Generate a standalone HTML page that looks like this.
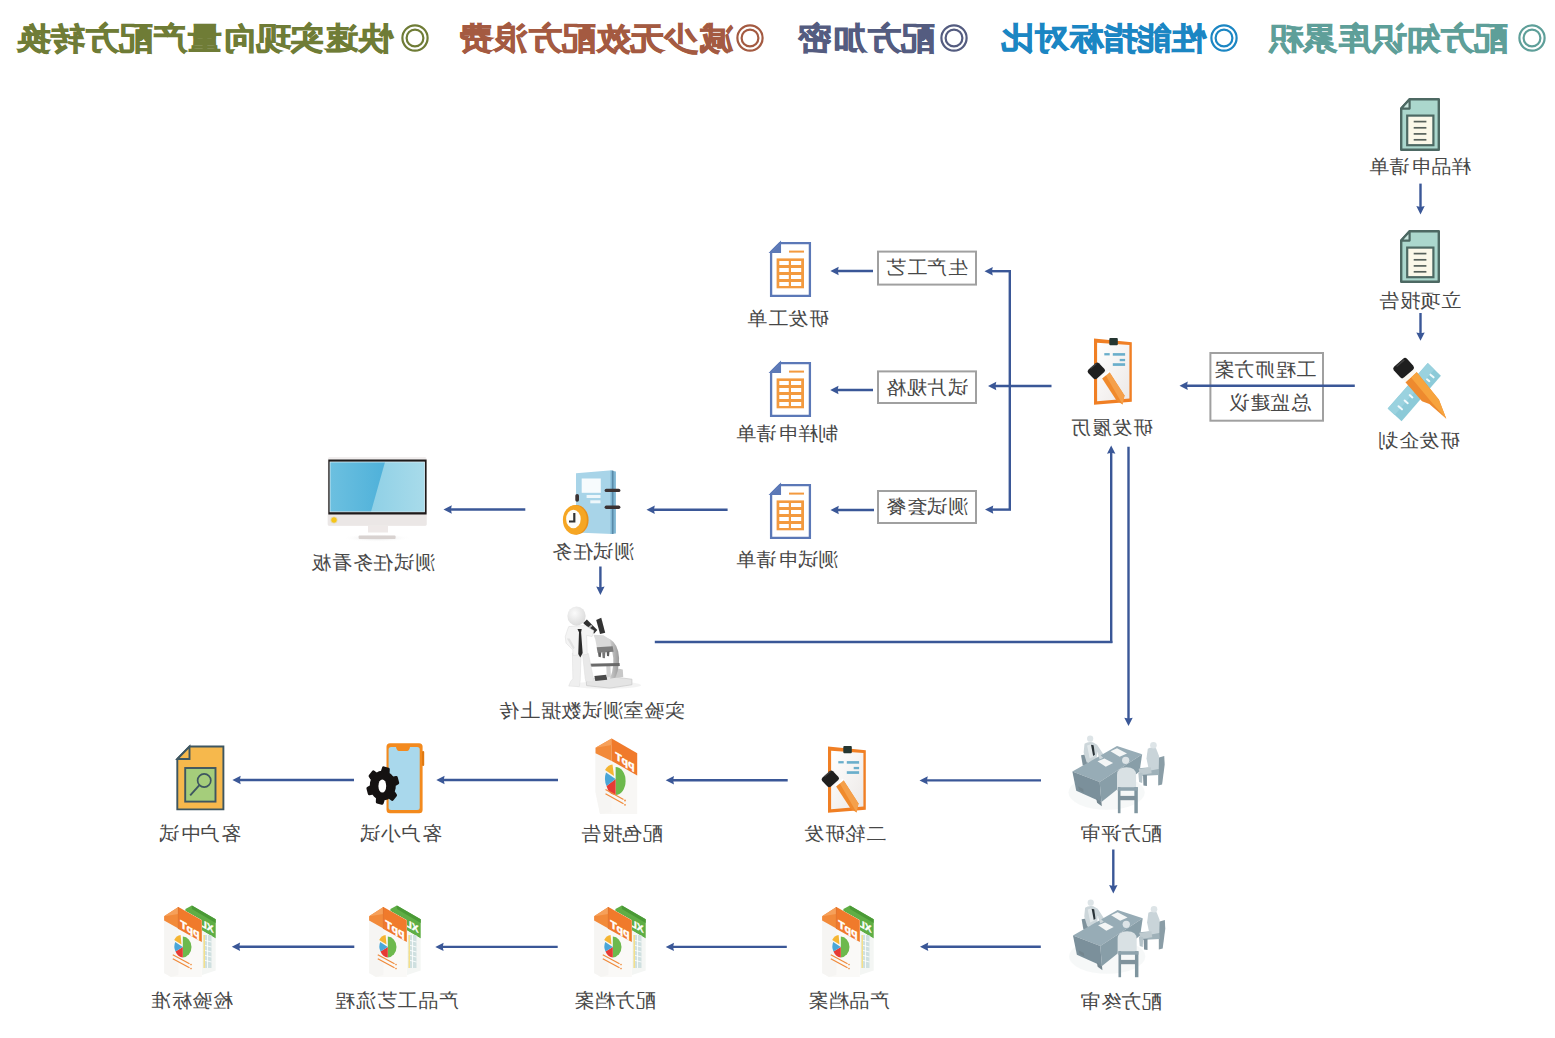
<!DOCTYPE html>
<html><head><meta charset="utf-8"><style>
html,body{margin:0;padding:0;background:#fff;width:1555px;height:1038px;overflow:hidden;position:relative;font-family:"Liberation Sans",sans-serif}
.lb{position:absolute;width:300px;text-align:center;font-size:20px;line-height:20px;color:#474747;white-space:nowrap;letter-spacing:0.65px;padding-left:0.65px;box-sizing:border-box;transform:scale(-1,0.95)}
.hd{position:absolute;top:21px;height:34px;font-size:34px;line-height:34px;font-weight:bold;white-space:nowrap;letter-spacing:0.2px;transform:scale(-1,0.92);text-align:left;-webkit-text-stroke:0.9px currentColor}
.circ{position:absolute}
svg.main{position:absolute;left:0;top:0}
svg.main .ln line{stroke:#3a5797;stroke-width:2.4}
svg.main .ln .ah{fill:#3a5797}
svg.main .bx rect{fill:none;stroke:#a0a0a0;stroke-width:2}
</style></head><body>
<svg class="main" width="1555" height="1038" viewBox="0 0 1555 1038">
<g class="bx"><rect x="1210.4" y="353" width="112.59999999999991" height="67.69999999999999" /><rect x="878" y="251.6" width="98" height="33.00000000000003" /><rect x="878" y="371.4" width="98" height="31.600000000000023" /><rect x="878" y="491" width="98" height="32" /></g>
<defs>
  <g id="tealdoc">
    <path d="M9.6,1.2 H38.8 V51.8 H1.2 V10.6 Z" fill="#abd7cd" stroke="#4d6963" stroke-width="2.4" stroke-linejoin="round"/>
    <path d="M9.6,1.2 V10.6 H1.2 Z" fill="#c9e6df" stroke="#4d6963" stroke-width="2.2" stroke-linejoin="round"/>
    <rect x="7.2" y="17.6" width="26.2" height="29.6" fill="#fbf8e9" stroke="#4d6963" stroke-width="2.2"/>
    <g stroke="#56605a" stroke-width="1.7">
      <line x1="13.7" y1="23.6" x2="26.4" y2="23.6"/>
      <line x1="13.7" y1="29.8" x2="26.4" y2="29.8"/>
      <line x1="13.7" y1="35.9" x2="26.4" y2="35.9"/>
      <line x1="13.7" y1="41.8" x2="26.4" y2="41.8"/>
    </g>
  </g>
  <g id="bluedoc">
    <path d="M10,1.1 H39.9 V53.9 H1.1 V10 Z" fill="#fff" stroke="#5b78b7" stroke-width="2.3" stroke-linejoin="miter"/>
    <path d="M10,1.1 V10 H1.1 Z" fill="#fff" stroke="#5b78b7" stroke-width="2.1"/>
    <path d="M9,3 L3,9 L9,9 Z" fill="#5b78b7"/>
    <rect x="19" y="8.6" width="15" height="2" fill="#f39a3f"/>
    <rect x="6.6" y="16.4" width="27.4" height="29.9" fill="#f39a3f"/>
    <g fill="#fff">
      <rect x="9.3" y="19" width="9.5" height="4"/><rect x="21" y="19" width="10.2" height="4"/>
      <rect x="9.3" y="26" width="9.5" height="4"/><rect x="21" y="26" width="10.2" height="4"/>
      <rect x="9.3" y="33" width="9.5" height="4"/><rect x="21" y="33" width="10.2" height="4"/>
      <rect x="9.3" y="40" width="9.5" height="4"/><rect x="21" y="40" width="10.2" height="4"/>
    </g>
  </g>
  <linearGradient id="paperg" x1="0" y1="0" x2="1" y2="1">
    <stop offset="0" stop-color="#ffffff"/><stop offset="1" stop-color="#ece8e6"/>
  </linearGradient>
  <g id="clip">
    <path d="M0,0.5 L37.8,4.3 L37.8,63.7 L0,66.8 Z" fill="#f07f24"/>
    <path d="M3.1,4.7 L35.4,7 L35.4,60.6 L3.1,63.3 Z" fill="url(#paperg)"/>
    <rect x="15.3" y="0" width="8.5" height="7.3" rx="1" fill="#253631"/>
    <g fill="#6aaecb">
      <rect x="10.3" y="15.1" width="5.4" height="2.3"/><rect x="18.8" y="15.1" width="12.3" height="2.6"/>
      <rect x="25.7" y="20.9" width="5.4" height="2.3"/><rect x="18.8" y="25.2" width="12.3" height="2.7"/>
    </g>
    <path d="M7.5,39.5 L15.2,33.7 L30.5,57.5 L28.6,66.4 L22.5,62.5 Z" fill="#f08a2c"/>
    <path d="M11.3,36.6 L15.2,33.7 L30.5,57.5 L28.6,66.4 Z" fill="#f5a04a"/>
    <path d="M7.2,39.9 L15.5,33.3" stroke="#fff" stroke-width="2"/>
    <path d="M-5.5,31.5 L1.5,25.3 Q3.3,23.8 5,25.3 L10.5,31 Q11.8,32.6 10.3,34 L3,40.5 Q1.2,42 -0.5,40.5 L-5.8,35 Q-7.2,33.2 -5.5,31.5 Z" fill="#1f1f1f"/>
    <path d="M-3.5,30.5 L2.5,25.5" stroke="#5a5a5a" stroke-width="1.2" opacity="0.6"/>
  </g>
  <g id="meet">
  <g transform="scale(0.086685)">
    <ellipse cx="480" cy="720" rx="440" ry="200" fill="#eef1f2" opacity="0.5"/>
    <!-- back-left chair -->
    <path d="M185,290 L250,280 L265,400 L205,410 Z" fill="#7f929c"/>
    <!-- back-left person -->
    <path d="M225,160 Q260,130 320,140 L370,170 L450,290 L430,320 L370,250 L365,345 L250,375 L215,260 Z" fill="#ccd6da"/>
    <path d="M255,180 L300,165 L330,180 L340,300 L285,330 Z" fill="#e2e8ea"/>
    <path d="M300,170 L330,175 L345,285 L325,300 Z" fill="#2a3338"/>
    <circle cx="290" cy="100" r="36" fill="#dde4e7"/>
    <!-- desk -->
    <path d="M85,480 L600,185 L890,280 L400,600 Z" fill="#97acb6"/>
    <path d="M85,480 L400,600 L420,830 L130,700 Z" fill="#7b909b"/>
    <path d="M400,600 L890,280 L860,480 L420,830 Z" fill="#889ea8"/>
    <path d="M150,650 L210,680 L215,720 L160,690 Z" fill="#74868f"/>
    <path d="M360,790 L420,830 L425,880 L370,840 Z" fill="#74868f"/>
    <!-- papers -->
    <path d="M525,245 L600,210 L715,270 L630,310 Z" fill="#f4f6f6"/>
    <path d="M375,360 L455,330 L555,380 L470,425 Z" fill="#f4f6f6"/>
    <path d="M370,250 L440,320 L400,340 Z" fill="#ccd6da"/>
    <!-- right chair & person -->
    <path d="M1075,320 L1145,300 L1150,400 L1120,630 L1075,640 Z" fill="#8a9da6"/>
    <path d="M850,440 L1080,420 L1085,520 L870,530 Z" fill="#9fb1b9"/>
    <path d="M900,520 L945,520 L945,645 L905,640 Z" fill="#7f929c"/>
    <path d="M955,215 Q1000,190 1050,210 L1085,300 L1080,450 L970,470 L940,330 Z" fill="#c9d4d9"/>
    <path d="M850,450 L990,430 L1000,500 L870,520 Z" fill="#bfcbd0"/>
    <path d="M845,490 L895,495 L890,610 L855,600 Z" fill="#b5c3c9"/>
    <circle cx="1020" cy="175" r="38" fill="#dde4e7"/>
    <!-- front person & chair -->
    <path d="M600,520 Q600,430 710,430 Q820,430 820,520 L820,700 L600,700 Z" fill="#d9e1e4"/>
    <circle cx="700" cy="350" r="42" fill="#dde4e7"/>
    <path d="M610,660 L640,660 L640,960 L610,960 Z" fill="#7f959f"/>
    <path d="M800,660 L840,660 L840,960 L800,960 Z" fill="#7f959f"/>
    <path d="M610,660 L840,660 L840,700 L610,700 Z" fill="#8ea3ad"/>
    <path d="M630,760 L820,760 L820,810 L630,810 Z" fill="#7f929c"/>
  </g>
</g>
  <g id="pptxl">
    <!-- XL behind -->
    <path d="M21.4,3.9 L27.9,0.4 L51.7,14.3 L51.7,33.4 L38,25.5 L38,15.3 L21.4,6 Z" fill="#5fae45"/>
    <path d="M27.9,0.4 L51.7,14.3 L51.7,18 L27.9,4 Z" fill="#4a9a36"/>
    <path d="M38,25.5 L51.7,33.4 L51.7,65.5 L38,70 Z" fill="#f4f6f4"/>
    <g fill="#cfe0e0">
      <rect x="39.5" y="30" width="8" height="33" />
    </g>
    <g stroke="#fff" stroke-width="0.8">
      <line x1="39.5" y1="35" x2="47.5" y2="37"/><line x1="39.5" y1="40" x2="47.5" y2="42"/>
      <line x1="39.5" y1="45" x2="47.5" y2="47"/><line x1="39.5" y1="50" x2="47.5" y2="52"/>
      <line x1="39.5" y1="55" x2="47.5" y2="57"/><line x1="43.5" y1="30" x2="43.5" y2="63"/>
    </g>
    <rect x="39.5" y="30" width="1.5" height="33" fill="#f5e08a"/>
    <text x="0" y="0" transform="matrix(-1,-0.55,0,1,49.5,28)" font-family="Liberation Sans" font-weight="bold" font-size="10" fill="#fff" stroke="#fff" stroke-width="0.4">XL</text>
    <!-- PPT doc -->
    <path d="M0.1,11.2 L14.4,2.1 L37.8,15.2 L37.8,72 L7,72 L0.1,68 Z" fill="#faf9f7"/>
    <path d="M0.1,15 L0.1,68 L7,72 L14.4,70 L14.4,23" fill="#f6f5f3"/>
    <path d="M0.1,11.2 L14.4,2.1 L14.4,23.4 L0.1,15.6 Z" fill="#f28a3a"/><path d="M0.1,11.2 L14.4,2.1 L14.4,9 Z" fill="#f6a05a"/>
    <path d="M14.4,2.1 L37.8,15.2 L37.8,37 L14.4,24 Z" fill="#f07a2b"/>
    <path d="M14.4,2.1 L14.4,24" stroke="#e06a20" stroke-width="0.8"/>
    <text x="0" y="0" transform="matrix(-1,-0.56,0,1,35.5,33)" font-family="Liberation Sans" font-weight="bold" font-size="10.5" fill="#fff" stroke="#fff" stroke-width="0.5">ppT</text>
    <!-- pie -->
    <path d="M18.8,42 L18.8,31.6 A8.7,10.4 0 0 1 18.8,52.4 Z" fill="#6db94d"/>
    <path d="M18.8,42 L18.8,52.4 A8.7,10.4 0 0 1 11.5,46.5 Z" fill="#e63a34"/>
    <path d="M18.8,42 L11.5,46.5 A8.7,10.4 0 0 1 11.2,37 Z" fill="#4aa6d8"/>
    <path d="M17.5,39.5 L10.2,35 A8.7,10.4 0 0 1 16.6,30 Z" fill="#f5b532"/>
    <g stroke="#f08a3a" stroke-width="1.2">
      <line x1="8.8" y1="49.8" x2="25.5" y2="58.8"/><line x1="8.8" y1="53.7" x2="25.5" y2="62.8"/>
    </g>
    <g fill="#f08a3a"><circle cx="27" cy="59.6" r="0.8"/><circle cx="27" cy="63.6" r="0.8"/></g>
  </g>
</defs>
<use href="#tealdoc" x="1400" y="98"/>
<use href="#tealdoc" x="1400" y="230"/>
<use href="#bluedoc" x="770" y="242"/>
<use href="#bluedoc" x="770" y="362"/>
<use href="#bluedoc" x="770" y="484"/>
<use href="#clip" x="1094" y="338"/>
<use href="#clip" x="828" y="746"/>
<use href="#meet" x="1065" y="730"/>
<use href="#meet" x="1065.6" y="894"/>
<use href="#pptxl" x="164" y="905"/>
<use href="#pptxl" x="369" y="905"/>
<use href="#pptxl" x="594" y="905"/>
<use href="#pptxl" x="822" y="905"/>
<!-- pencil + ruler (研发企划) -->
<g id="pencil">
  <g transform="translate(1380,350) scale(0.07707)">
    <path d="M100,760 L280,925 L790,335 L620,170 Z" fill="#8ccad8"/>
    <path d="M100,760 L190,842 L705,252 L620,170 Z" fill="#9ad2df"/>
    <g stroke="#f2fafc" stroke-width="26" stroke-linecap="round">
      <line x1="240" y1="730" x2="285" y2="770"/>
      <line x1="320" y1="655" x2="360" y2="690"/>
      <line x1="385" y1="585" x2="420" y2="615"/>
      <line x1="610" y1="380" x2="640" y2="405"/>
      <line x1="655" y1="320" x2="695" y2="355"/>
    </g>
    <path d="M330,420 L475,285 L765,645 L860,892 L640,700 L545,665 Z" fill="#ee8a2e"/>
    <path d="M400,355 L475,285 L765,645 L860,892 L680,690 Z" fill="#f7a43e"/>
    <path d="M290,372 L440,238 L478,282 L330,418 Z" fill="#fbf7f0"/>
    <path d="M185,215 L300,112 Q325,92 350,112 L432,205 Q452,232 428,255 L310,358 Q285,380 262,355 L178,262 Q160,238 185,215 Z" fill="#1f1f1f"/>
    <path d="M215,215 L315,128" stroke="#5a5a5a" stroke-width="18" opacity="0.6"/>
  </g>
</g>
<!-- notebook + clock (测试任务) -->
<g id="notebook">
  <path d="M576,473.3 L612.1,470.3 L612.1,534.1 L576,532.6 Z" fill="#a8d4e8"/>
  <path d="M610.5,470.5 L615.9,471.5 L615.9,533.5 L610.5,534.1 Z" fill="#7fb6d3"/>
  <path d="M612,470.5 L613.5,470.8 L613.5,534 L612,534 Z" fill="#5a8aa8"/>
  <rect x="581.7" y="478.5" width="19.1" height="14.3" fill="#f7fbfd"/>
  <rect x="586.6" y="495" width="13.9" height="3" fill="#eef7fb"/>
  <rect x="590.3" y="500.3" width="10.2" height="3" fill="#eef7fb"/>
  <rect x="604.6" y="488.7" width="15.8" height="3.4" rx="1.7" fill="#3b3233"/>
  <rect x="604.6" y="505.6" width="15.8" height="3.4" rx="1.7" fill="#3b3233"/>
  <rect x="575.3" y="494" width="3.7" height="7.8" rx="1.8" fill="#3b3233"/>
  <ellipse cx="576.3" cy="519.9" rx="12.3" ry="14.8" fill="#e8901a"/>
  <ellipse cx="574.9" cy="519.9" rx="12" ry="14.6" fill="#f6a623"/>
  <ellipse cx="573.4" cy="519" rx="7.3" ry="9.3" fill="#fffdf8"/>
  <path d="M574.3,513 V521.5 H569" stroke="#333" stroke-width="2.2" fill="none"/>
</g>
<!-- monitor (测试任务看板) -->
<defs>
  <linearGradient id="scr" x1="0" y1="0" x2="1" y2="0">
    <stop offset="0" stop-color="#6cc0e0"/><stop offset="1" stop-color="#3aa6d5"/>
  </linearGradient>
  <linearGradient id="scr2" x1="0" y1="0" x2="1" y2="0">
    <stop offset="0" stop-color="#8fd0e6"/><stop offset="1" stop-color="#a8dbea"/>
  </linearGradient>
  <radialGradient id="shad" cx="0.5" cy="0.5" r="0.5">
    <stop offset="0" stop-color="#ccc" stop-opacity="0.7"/><stop offset="1" stop-color="#fff" stop-opacity="0"/>
  </radialGradient>
</defs>
<g id="monitor">
  <ellipse cx="377" cy="538" rx="34" ry="4" fill="url(#shad)"/>
  <rect x="368" y="525.5" width="20" height="7" fill="#eee9e8"/>
  <rect x="358.6" y="535.5" width="37" height="3.5" rx="1" fill="#d8d2d0"/>
  <rect x="327.8" y="457" width="98.8" height="68.7" rx="2" fill="#f1eeee"/>
  <rect x="327.8" y="514" width="98.8" height="11.7" rx="1.5" fill="#ebe7e6"/>
  <rect x="328.3" y="459.5" width="98.3" height="55" fill="#1e1a1a"/>
  <rect x="330" y="462" width="94.5" height="49.8" fill="url(#scr)"/>
  <path d="M385,462 L424.5,462 L424.5,511.8 L371,511.8 Z" fill="url(#scr2)"/>
  <rect x="330" y="462" width="94.5" height="49.8" fill="none" stroke="#d9eef6" stroke-width="0.8"/>
  <circle cx="334" cy="520" r="3.3" fill="#f5c518" stroke="#e0e0e0" stroke-width="0.8"/>
</g>
<!-- lab man + microscope -->
<g id="labman">
  <defs>
    <radialGradient id="headg" cx="0.4" cy="0.35" r="0.7">
      <stop offset="0" stop-color="#fbfbfb"/><stop offset="1" stop-color="#d9d9d9"/>
    </radialGradient>
    <linearGradient id="armg" x1="0" y1="0" x2="1" y2="0">
      <stop offset="0" stop-color="#e8e8e8"/><stop offset="1" stop-color="#9a9a9a"/>
    </linearGradient>
  </defs>
  <g transform="translate(555,600) scale(0.09158)">
    <ellipse cx="560" cy="930" rx="380" ry="40" fill="#eeeeee" opacity="0.7"/>
    <!-- base -->
    <path d="M340,870 L600,835 L840,865 L840,925 L600,962 L345,935 Z" fill="#e4e4e4" stroke="#c9c9c9" stroke-width="8"/>
    <path d="M430,830 L560,815 L570,870 L440,885 Z" fill="#4a4a4a"/>
    <path d="M650,740 L740,760 L745,840 L660,850 Z" fill="#c8c8c8"/>
    <!-- arm -->
    <path d="M560,410 Q660,440 690,560 Q720,700 660,850 L600,860 Q660,700 625,565 Q600,480 545,460 Z" fill="url(#armg)"/>
    <path d="M560,720 L605,720 L610,835 L565,840 Z" fill="#d0d0d0"/>
    <!-- stage -->
    <path d="M350,695 L705,688 L708,722 L355,728 Z" fill="#6a6a6a"/>
    <!-- head body & turret -->
    <path d="M420,380 L530,385 L600,430 L615,520 L460,535 L440,430 Z" fill="#d9d9d9"/>
    <path d="M455,515 L630,505 L640,565 L465,575 Z" fill="#7d7d7d"/>
    <path d="M470,570 L505,570 L500,625 L475,620 Z" fill="#5e5e5e"/>
    <path d="M515,570 L550,568 L545,635 L520,632 Z" fill="#777"/>
    <path d="M565,565 L595,560 L590,615 L568,612 Z" fill="#5e5e5e"/>
    <!-- eyepieces -->
    <path d="M308,252 L348,212 L462,328 L425,368 Z" fill="#2f2f2f"/>
    <path d="M450,218 L505,195 L548,358 L492,372 Z" fill="#333"/>
    <path d="M360,300 L395,270 L410,285 L375,315 Z" fill="#ddd" opacity="0.8"/>
    <!-- legs -->
    <path d="M190,580 L285,585 L275,880 L265,945 L150,940 L170,890 L195,860 Z" fill="#efefef" stroke="#dedede" stroke-width="6"/>
    <path d="M300,585 L365,585 L420,860 L410,895 L340,890 L330,860 Z" fill="#e9e9e9" stroke="#dedede" stroke-width="6"/>
    <!-- torso -->
    <path d="M150,290 L330,278 L425,335 L405,400 L345,385 L352,595 L195,605 L195,545 L120,470 L112,400 L138,320 Z" fill="#f4f4f4" stroke="#dcdcdc" stroke-width="6"/>
    <path d="M130,420 L200,540 L215,520 L160,420 Z" fill="#e2e2e2"/>
    <path d="M245,318 L292,318 L285,352 L302,580 L276,628 L254,590 L262,352 Z" fill="#2b2b2b"/>
    <!-- head -->
    <ellipse cx="235" cy="175" rx="100" ry="105" fill="url(#headg)"/>
  </g>
</g>
<!-- PPT single (配色报告) -->
<g id="pptone">
  <path d="M595.5,753.2 L611.7,738.5 L637.2,753.2 L637.2,814 L600,814 L595.5,791.7 Z" fill="#f8f7f5"/>
  <path d="M595.5,753 L595.5,792 L600,814 L611.7,812 L611.7,761" fill="#f6f5f3"/>
  <path d="M595.5,747.7 L611.7,738.5 L611.7,760.9 L595.5,753.2 Z" fill="#f28a3a"/>
  <path d="M595.5,747.7 L611.7,738.5 L611.7,745 Z" fill="#f6a05a"/>
  <path d="M611.7,738.5 L637.2,753.2 L637.2,775.5 L611.7,760.9 Z" fill="#f07a2b"/>
  <text x="0" y="0" transform="matrix(-1,-0.56,0,1,634.5,770)" font-family="Liberation Sans" font-weight="bold" font-size="10.5" fill="#fff" stroke="#fff" stroke-width="0.5">ppT</text>
  <path d="M615.6,779 L615.6,767 A10,14 0 0 1 615.6,795 Z" fill="#6db94d"/>
  <path d="M615.6,779 L615.6,795 A10,14 0 0 1 606.5,786 Z" fill="#e63a34"/>
  <path d="M615.6,779 L606.5,786 A10,14 0 0 1 606,772.5 Z" fill="#4aa6d8"/>
  <path d="M614,776 L605,770 A10,14 0 0 1 612.5,764.5 Z" fill="#f5b532"/>
  <g stroke="#f08a3a" stroke-width="1.2">
    <line x1="605.5" y1="789.4" x2="623.5" y2="799.5"/><line x1="605.5" y1="793.8" x2="623.5" y2="803.8"/>
  </g>
  <g fill="#f08a3a"><circle cx="625" cy="800.5" r="0.9"/><circle cx="625" cy="804.8" r="0.9"/></g>
</g>
<!-- phone + gear (客户小试) -->
<g id="phone">
  <rect x="386.5" y="743.2" width="36.1" height="70" rx="3.5" fill="#f38a1e"/>
  <rect x="422" y="751" width="2.2" height="15" rx="1" fill="#e07a12"/>
  <rect x="388.6" y="746.9" width="31.1" height="63.1" rx="2.5" fill="#a9d8ec"/>
  <path d="M396,746.9 H410 Q409.5,750.5 407,751 H399 Q396.5,750.5 396,746.9 Z" fill="#f38a1e"/>
  <path d="M379.3,772.9 L382.2,772.2 L383.6,768.0 L388.2,769.2 L388.0,773.7 L390.4,775.7 L390.4,775.7 L392.4,778.3 L396.2,777.6 L397.6,782.8 L394.2,784.9 L394.0,788.4 L394.0,788.4 L393.0,791.7 L395.4,795.2 L392.2,799.3 L389.0,796.8 L386.3,798.3 L386.3,798.3 L383.4,799.0 L382.0,803.2 L377.4,802.0 L377.6,797.5 L375.2,795.5 L375.2,795.5 L373.2,792.9 L369.4,793.6 L368.0,788.4 L371.4,786.3 L371.6,782.8 L371.6,782.8 L372.6,779.5 L370.2,776.0 L373.4,771.9 L376.6,774.4 L379.3,772.9 Z" fill="#151212" stroke="#151212" stroke-width="3.2" stroke-linejoin="round"/>
  <ellipse cx="382.3" cy="786" rx="3.9" ry="6.6" fill="#fff"/>
</g>
<!-- doc search (客户中试) -->
<g id="docsearch">
  <path d="M189.5,746.5 H223.4 V809.4 H177.3 V759 Z" fill="#f6b84c" stroke="#3e5660" stroke-width="1.9" stroke-linejoin="miter"/>
  <path d="M189.5,746.5 V759 H177.3 Z" fill="#f6b84c" stroke="#3e5660" stroke-width="1.9"/>
  <rect x="185.2" y="768" width="30.3" height="33.6" fill="#a5cd7b" stroke="#3e5660" stroke-width="1.9"/>
  <circle cx="204.2" cy="780.5" r="6.6" fill="none" stroke="#3e5660" stroke-width="1.7"/>
  <line x1="199.4" y1="785.2" x2="190.2" y2="795.3" stroke="#3e5660" stroke-width="1.9"/>
</g>

<g class="ln"><line x1="1420.5" y1="183.6" x2="1420.5" y2="208.4" /><path class="ah" d="M1420.5,214.4 L1416.3,206.1 L1420.5,207.0 L1424.7,206.1 Z"/><line x1="1420.5" y1="313" x2="1420.5" y2="334.7" /><path class="ah" d="M1420.5,340.7 L1416.3,332.4 L1420.5,333.3 L1424.7,332.4 Z"/><line x1="1354.8" y1="385.8" x2="1185.5" y2="385.8" /><path class="ah" d="M1179.5,385.8 L1187.8,381.6 L1186.9,385.8 L1187.8,390.0 Z"/><line x1="1051.5" y1="386" x2="994" y2="386" /><path class="ah" d="M988,386 L996.3,381.8 L995.4,386 L996.3,390.2 Z"/><line x1="1009.8" y1="271.2" x2="1009.8" y2="509.6" /><line x1="1011" y1="271.2" x2="990.5" y2="271.2" /><path class="ah" d="M984.5,271.2 L992.8,267.0 L991.9,271.2 L992.8,275.4 Z"/><line x1="1011" y1="509.6" x2="991" y2="509.6" /><path class="ah" d="M985,509.6 L993.3,505.40000000000003 L992.4,509.6 L993.3,513.8000000000001 Z"/><line x1="873" y1="271" x2="836.4" y2="271" /><path class="ah" d="M830.4,271 L838.6999999999999,266.8 L837.8,271 L838.6999999999999,275.2 Z"/><line x1="873" y1="390" x2="836.2" y2="390" /><path class="ah" d="M830.2,390 L838.5,385.8 L837.6,390 L838.5,394.2 Z"/><line x1="874" y1="510" x2="836.5" y2="510" /><path class="ah" d="M830.5,510 L838.8,505.8 L837.9,510 L838.8,514.2 Z"/><line x1="727.6" y1="509.7" x2="652.5" y2="509.7" /><path class="ah" d="M646.5,509.7 L654.8,505.5 L653.9,509.7 L654.8,513.9 Z"/><line x1="525.3" y1="509.5" x2="449.5" y2="509.5" /><path class="ah" d="M443.5,509.5 L451.8,505.3 L450.9,509.5 L451.8,513.7 Z"/><line x1="600.4" y1="566.5" x2="600.4" y2="588.9" /><path class="ah" d="M600.4,594.9 L596.1999999999999,586.6 L600.4,587.5 L604.6,586.6 Z"/><line x1="654.8" y1="642" x2="1112.4" y2="642" /><line x1="1111.2" y1="643" x2="1111.2" y2="451.4" /><path class="ah" d="M1111.2,445.4 L1107.0,453.7 L1111.2,452.79999999999995 L1115.4,453.7 Z"/><line x1="1128.5" y1="446.7" x2="1128.5" y2="720" /><path class="ah" d="M1128.5,726 L1124.3,717.7 L1128.5,718.6 L1132.7,717.7 Z"/><line x1="1041" y1="780.4" x2="925.5" y2="780.4" /><path class="ah" d="M919.5,780.4 L927.8,776.1999999999999 L926.9,780.4 L927.8,784.6 Z"/><line x1="787.7" y1="780.2" x2="671.7" y2="780.2" /><path class="ah" d="M665.7,780.2 L674.0,776.0 L673.1,780.2 L674.0,784.4000000000001 Z"/><line x1="558" y1="780" x2="442.3" y2="780" /><path class="ah" d="M436.3,780 L444.6,775.8 L443.7,780 L444.6,784.2 Z"/><line x1="354" y1="780" x2="238.4" y2="780" /><path class="ah" d="M232.4,780 L240.70000000000002,775.8 L239.8,780 L240.70000000000002,784.2 Z"/><line x1="1113.3" y1="849.5" x2="1113.3" y2="887.4" /><path class="ah" d="M1113.3,893.4 L1109.1,885.1 L1113.3,886.0 L1117.5,885.1 Z"/><line x1="1040.8" y1="946.8" x2="926" y2="946.8" /><path class="ah" d="M920,946.8 L928.3,942.5999999999999 L927.4,946.8 L928.3,951.0 Z"/><line x1="786.8" y1="946.9" x2="671.7" y2="946.9" /><path class="ah" d="M665.7,946.9 L674.0,942.6999999999999 L673.1,946.9 L674.0,951.1 Z"/><line x1="557.7" y1="946.9" x2="441.3" y2="946.9" /><path class="ah" d="M435.3,946.9 L443.6,942.6999999999999 L442.7,946.9 L443.6,951.1 Z"/><line x1="354.3" y1="946.8" x2="237.8" y2="946.8" /><path class="ah" d="M231.8,946.8 L240.10000000000002,942.5999999999999 L239.20000000000002,946.8 L240.10000000000002,951.0 Z"/></g>
</svg>
<div class="lb" style="left:1269.8px;top:156.4px">样品申请单</div>
<div class="lb" style="left:1269.5px;top:290.4px">立项报告</div>
<div class="lb" style="left:1269.0px;top:430.0px">研发企划</div>
<div class="lb" style="left:1114.5px;top:358.9px">工程师方案</div>
<div class="lb" style="left:1119.5px;top:392.2px">总监建议</div>
<div class="lb" style="left:962.0px;top:417.4px">研发履历</div>
<div class="lb" style="left:776.5px;top:257.4px">生产工艺</div>
<div class="lb" style="left:777.0px;top:377.1px">试片规格</div>
<div class="lb" style="left:776.6px;top:496.4px">测试套餐</div>
<div class="lb" style="left:637.5px;top:307.9px">研发工单</div>
<div class="lb" style="left:637.3px;top:423.1px">制样申请单</div>
<div class="lb" style="left:637.3px;top:548.9px">测试申请单</div>
<div class="lb" style="left:443.3px;top:540.7px">测试任务</div>
<div class="lb" style="left:222.9px;top:551.8px">测试任务看板</div>
<div class="lb" style="left:442.3px;top:699.8px">实验室测试数据上传</div>
<div class="lb" style="left:970.8px;top:822.9px">配方评审</div>
<div class="lb" style="left:694.8px;top:822.9px">二轮研发</div>
<div class="lb" style="left:472.2px;top:823.4px">配色报告</div>
<div class="lb" style="left:251.2px;top:822.9px">客户小试</div>
<div class="lb" style="left:49.7px;top:822.9px">客户中试</div>
<div class="lb" style="left:971.0px;top:990.7px">配方终审</div>
<div class="lb" style="left:699.4px;top:990.1px">产品档案</div>
<div class="lb" style="left:465.4px;top:990.3px">配方档案</div>
<div class="lb" style="left:247.4px;top:990.1px">产品工艺流程</div>
<div class="lb" style="left:42.0px;top:990.1px">检验标准</div>

<div class="hd" style="left:16.0px;width:376.2px;color:#6f7c36">快速实现向量产配方转换</div>
<svg class="circ" style="left:401px;top:24px" width="28" height="28" viewBox="0 0 28 28"><circle cx="14" cy="14" r="12.6" fill="none" stroke="#6f7c36" stroke-width="2.2"/><circle cx="14" cy="14" r="8.4" fill="none" stroke="#6f7c36" stroke-width="2.2"/></svg>
<div class="hd" style="left:459.0px;width:273.6px;color:#a45a41">减少无效配方浪费</div>
<svg class="circ" style="left:736px;top:24px" width="28" height="28" viewBox="0 0 28 28"><circle cx="14" cy="14" r="12.6" fill="none" stroke="#a45a41" stroke-width="2.2"/><circle cx="14" cy="14" r="8.4" fill="none" stroke="#a45a41" stroke-width="2.2"/></svg>
<div class="hd" style="left:798.0px;width:136.8px;color:#545c80">配方加密</div>
<svg class="circ" style="left:940px;top:24px" width="28" height="28" viewBox="0 0 28 28"><circle cx="14" cy="14" r="12.6" fill="none" stroke="#545c80" stroke-width="2.2"/><circle cx="14" cy="14" r="8.4" fill="none" stroke="#545c80" stroke-width="2.2"/></svg>
<div class="hd" style="left:1000.0px;width:205.2px;color:#1b86c3">性能指标对比</div>
<svg class="circ" style="left:1210px;top:24px" width="28" height="28" viewBox="0 0 28 28"><circle cx="14" cy="14" r="12.6" fill="none" stroke="#1b86c3" stroke-width="2.2"/><circle cx="14" cy="14" r="8.4" fill="none" stroke="#1b86c3" stroke-width="2.2"/></svg>
<div class="hd" style="left:1269.0px;width:239.4px;color:#5e9f99">配方知识库累积</div>
<svg class="circ" style="left:1518px;top:24px" width="28" height="28" viewBox="0 0 28 28"><circle cx="14" cy="14" r="12.6" fill="none" stroke="#5e9f99" stroke-width="2.2"/><circle cx="14" cy="14" r="8.4" fill="none" stroke="#5e9f99" stroke-width="2.2"/></svg>

</body></html>
